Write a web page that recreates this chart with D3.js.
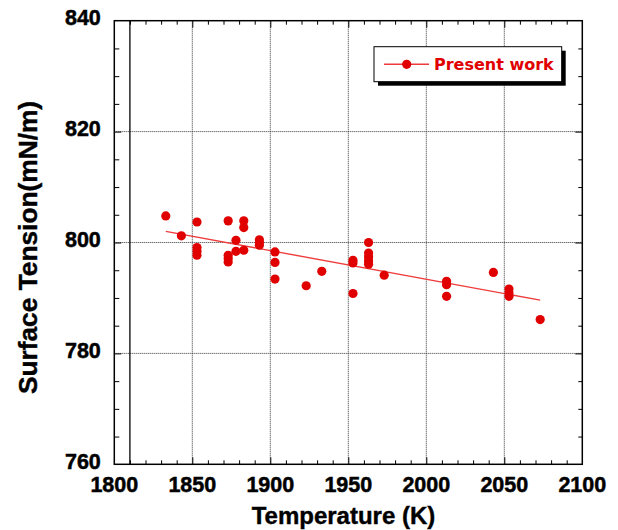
<!DOCTYPE html>
<html>
<head>
<meta charset="utf-8">
<script src="https://cdn.jsdelivr.net/npm/d3@7"></script>
<style>
  html, body { margin: 0; padding: 0; background: #fff; }
  svg { display: block; }
</style>
</head>
<body>
<svg id="chart" width="618" height="530"></svg>
<script>
// Measured surface tension of the melt versus temperature
const temperatures = [
  1833, 1843,
  1853, 1853, 1853, 1853,
  1873, 1873, 1873, 1873,
  1878, 1878,
  1883, 1883, 1883,
  1893, 1893, 1893,
  1903, 1903, 1903,
  1923, 1933,
  1953, 1953, 1953,
  1963, 1963, 1963, 1963, 1963,
  1973,
  2013, 2013, 2013,
  2043,
  2053, 2053, 2053,
  2073
];
const tensions = [
  804.8, 801.2,
  803.7, 799.1, 798.4, 797.7,
  803.9, 797.7, 797.1, 796.5,
  800.4, 798.4,
  803.9, 802.7, 798.6,
  800.5, 800.0, 799.5,
  798.3, 796.4, 793.4,
  792.2, 794.8,
  796.8, 796.3, 790.8,
  800.0, 798.1, 797.4, 796.7, 796.1,
  794.1,
  793.0, 792.4, 790.3,
  794.6,
  791.6, 790.9, 790.3,
  786.1
];

// Linear fit drawn through the measurements
const fitTemps = [1833, 2073];
const fitTensions = [802.0, 789.6];

const xTickLabels = [1800, 1850, 1900, 1950, 2000, 2050, 2100];
const yTickLabels = [760, 780, 800, 820, 840];
const seriesName = "Present work";

const points = temperatures.map((t, i) => ({ t, v: tensions[i] }));
const fit = fitTemps.map((t, i) => ({ t, v: fitTensions[i] }));

const svg = d3.select("#chart");
const pl = 114.3, pr = 582.3, pt = 20.7, pb = 464.3;

const x = d3.scaleLinear().domain([1800, 2100]).range([pl, pr]);
const y = d3.scaleLinear().domain([760, 840]).range([pb, pt]);

const red = "#e00000";
const lineRed = "#ee3b3b";

// Dotted grid at the major ticks
const grid = svg.append("g");
grid.selectAll("line.gx")
  .data(xTickLabels.slice(1, -1))
  .join("line")
  .attr("class", "gx")
  .attr("x1", d => x(d)).attr("x2", d => x(d))
  .attr("y1", pt).attr("y2", pb)
  .attr("stroke", "#333").attr("stroke-width", 1)
  .attr("stroke-dasharray", "1,1");
grid.selectAll("line.gy")
  .data(yTickLabels.slice(1, -1))
  .join("line")
  .attr("class", "gy")
  .attr("x1", pl).attr("x2", pr)
  .attr("y1", d => y(d)).attr("y2", d => y(d))
  .attr("stroke", "#333").attr("stroke-width", 1)
  .attr("stroke-dasharray", "1,1");

// Inward ticks on all four sides
const xMinor = d3.range(1810, 2100, 10).filter(d => d % 50 !== 0);
const yMinor = d3.range(765, 840, 5).filter(d => d % 20 !== 0);
const xMajor = xTickLabels.slice(1, -1);
const yMajor = yTickLabels.slice(1, -1);

function addAxis(axisGen, transform, values, size) {
  const g = svg.append("g")
    .attr("transform", transform)
    .call(axisGen.tickValues(values).tickSize(size).tickFormat(""));
  g.select(".domain").remove();
  g.selectAll(".tick line").attr("stroke", "#000").attr("stroke-width", 1);
  return g;
}
// bottom (ticks point up), top (point down), left (point right), right (point left)
addAxis(d3.axisTop(x), `translate(0,${pb})`, xMinor, 4);
addAxis(d3.axisTop(x), `translate(0,${pb})`, xMajor, 7);
addAxis(d3.axisBottom(x), `translate(0,${pt})`, xMinor, 4);
addAxis(d3.axisBottom(x), `translate(0,${pt})`, xMajor, 7);
addAxis(d3.axisRight(y), `translate(${pl},0)`, yMinor, 5);
addAxis(d3.axisRight(y), `translate(${pl},0)`, yMajor, 7);
addAxis(d3.axisLeft(y), `translate(${pr},0)`, yMinor, 4);
addAxis(d3.axisLeft(y), `translate(${pr},0)`, yMajor, 7);

// Vertical reference line at 1810 K
svg.append("line")
  .attr("x1", x(1810)).attr("x2", x(1810))
  .attr("y1", pt).attr("y2", pb)
  .attr("stroke", "#000").attr("stroke-width", 1.3);

// Plot frame
svg.append("rect")
  .attr("x", pl).attr("y", pt)
  .attr("width", pr - pl).attr("height", pb - pt)
  .attr("fill", "none").attr("stroke", "#000").attr("stroke-width", 1.5);

// Tick labels
const tickFont = "'Liberation Sans', Arial, sans-serif";
svg.append("g").selectAll("text")
  .data(xTickLabels)
  .join("text")
  .attr("x", d => x(d)).attr("y", pb + 27.5)
  .attr("text-anchor", "middle")
  .attr("font-family", tickFont).attr("font-weight", "bold")
  .attr("font-size", 21.5).attr("fill", "#000")
  .attr("stroke", "#000").attr("stroke-width", 0.5)
  .text(d => d);
svg.append("g").selectAll("text")
  .data(yTickLabels)
  .join("text")
  .attr("x", pl - 13.5).attr("y", d => y(d) + 4.7)
  .attr("text-anchor", "end")
  .attr("font-family", tickFont).attr("font-weight", "bold")
  .attr("font-size", 21.5).attr("fill", "#000")
  .attr("stroke", "#000").attr("stroke-width", 0.5)
  .text(d => d);

// Axis titles
svg.append("text")
  .attr("x", 343.5).attr("y", 524)
  .attr("text-anchor", "middle")
  .attr("font-family", tickFont).attr("font-weight", "bold")
  .attr("font-size", 24).attr("fill", "#000")
  .attr("stroke", "#000").attr("stroke-width", 0.4)
  .text("Temperature (K)");
svg.append("text")
  .attr("transform", "translate(36.5,247.5) rotate(-90)")
  .attr("text-anchor", "middle")
  .attr("font-family", tickFont).attr("font-weight", "bold")
  .attr("font-size", 26.3).attr("fill", "#000")
  .attr("stroke", "#000").attr("stroke-width", 0.4)
  .text("Surface Tension(mN/m)");

// Fit line
const line = d3.line().x(d => x(d.t)).y(d => y(d.v));
svg.append("path")
  .datum(fit)
  .attr("d", line)
  .attr("fill", "none").attr("stroke", lineRed).attr("stroke-width", 1.4);

// Data points
svg.append("g").selectAll("circle")
  .data(points)
  .join("circle")
  .attr("cx", d => x(d.t)).attr("cy", d => y(d.v))
  .attr("r", 4.6)
  .attr("fill", red);

// Legend with drop shadow
const lg = svg.append("g");
const lx = 374, ly = 46.7, lw = 187.7, lh = 35;
lg.append("rect")
  .attr("x", lx + 4).attr("y", ly + 4).attr("width", lw).attr("height", lh)
  .attr("fill", "#000");
lg.append("rect")
  .attr("x", lx).attr("y", ly).attr("width", lw).attr("height", lh)
  .attr("fill", "#fff").attr("stroke", "#000").attr("stroke-width", 1);
lg.append("line")
  .attr("x1", lx + 10).attr("x2", lx + 55)
  .attr("y1", ly + 17.6).attr("y2", ly + 17.6)
  .attr("stroke", lineRed).attr("stroke-width", 1.4);
lg.append("circle")
  .attr("cx", lx + 32.7).attr("cy", ly + 17.6).attr("r", 4.6)
  .attr("fill", red);
lg.append("text")
  .attr("x", lx + 60).attr("y", ly + 23.3)
  .attr("font-family", "'DejaVu Sans', Verdana, sans-serif")
  .attr("font-weight", "bold").attr("font-size", 16)
  .attr("fill", red)
  .text(seriesName);
</script>
</body>
</html>
